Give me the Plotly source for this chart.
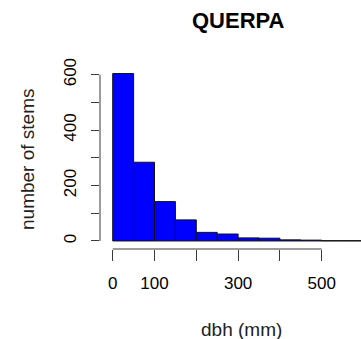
import plotly.graph_objects as go

# Data
bin_starts = [0, 50, 100, 150, 200, 250, 300, 350, 400, 450, 500, 550]
bin_width = 50
counts = [604, 284, 142, 76, 31, 25, 11, 10, 4, 3, 1, 1]
x_tickvals = [0, 100, 200, 300, 400, 500]
x_ticktext = ["0", "100", "", "300", "", "500"]
y_tickvals = [0, 100, 200, 300, 400, 500, 600]
y_ticktext = ["0", "", "200", "", "400", "", "600"]

W, H = 361, 339
ml, mr, mt, mb = 100, 0, 68, 90
pw = W - ml - mr
ph = H - mt - mb

def px_x(p):
    return (p - ml) / pw

def px_y(p):
    return (H - mb - p) / ph

FONT = "Liberation Sans, Arial, Helvetica, sans-serif"
AX = "#3a3a3a"

fig = go.Figure(go.Bar(
    x=[s + bin_width / 2 for s in bin_starts],
    y=counts,
    width=[bin_width] * len(counts),
    marker=dict(color="#0000FF", line=dict(color="#111111", width=1)),
    hoverinfo="skip",
))

fig.update_layout(
    width=W, height=H,
    margin=dict(l=ml, r=mr, t=mt, b=mb, pad=0),
    paper_bgcolor="white", plot_bgcolor="white",
    showlegend=False,
    font=dict(family=FONT, color="black"),
    xaxis=dict(range=[-30.4, 594], tickvals=x_tickvals, ticktext=x_ticktext,
               ticks="outside", ticklen=11, tickcolor=AX, tickwidth=1,
               showgrid=False, zeroline=False, showline=False,
               tickfont=dict(size=17, family=FONT), ticklabelstandoff=8),
    yaxis=dict(range=[-29, 624], tickvals=y_tickvals, ticktext=y_ticktext,
               ticks="outside", ticklen=8, tickcolor=AX, tickwidth=1,
               showgrid=False, zeroline=False, showline=False, tickangle=-90,
               tickfont=dict(size=17, family=FONT), ticklabelstandoff=8),
    shapes=[
        dict(type="line", xref="x", yref="paper", x0=x_tickvals[0], x1=x_tickvals[-1],
             y0=0, y1=0, line=dict(color=AX, width=1)),
        dict(type="line", xref="paper", yref="y", x0=0, x1=0,
             y0=y_tickvals[0], y1=y_tickvals[-1], line=dict(color=AX, width=1)),
    ],
    annotations=[
        dict(text="<b>QUERPA</b>", xref="paper", yref="paper", x=px_x(238.7), y=px_y(20.5),
             xanchor="center", yanchor="middle", showarrow=False,
             font=dict(size=22, family=FONT, color="black")),
        dict(text="number of stems", xref="paper", yref="paper", x=px_x(27), y=px_y(159),
             xanchor="center", yanchor="middle", showarrow=False, textangle=-90,
             font=dict(size=19, family=FONT, color="#222")),
        dict(text="dbh (mm)", xref="paper", yref="paper", x=px_x(241.7), y=px_y(329),
             xanchor="center", yanchor="middle", showarrow=False,
             font=dict(size=19, family=FONT, color="#222")),
    ],
)

fig.write_html("out.html",
               config={"displayModeBar": False, "staticPlot": True},
               post_script="document.body.style.margin='0';document.body.style.overflow='hidden';")
